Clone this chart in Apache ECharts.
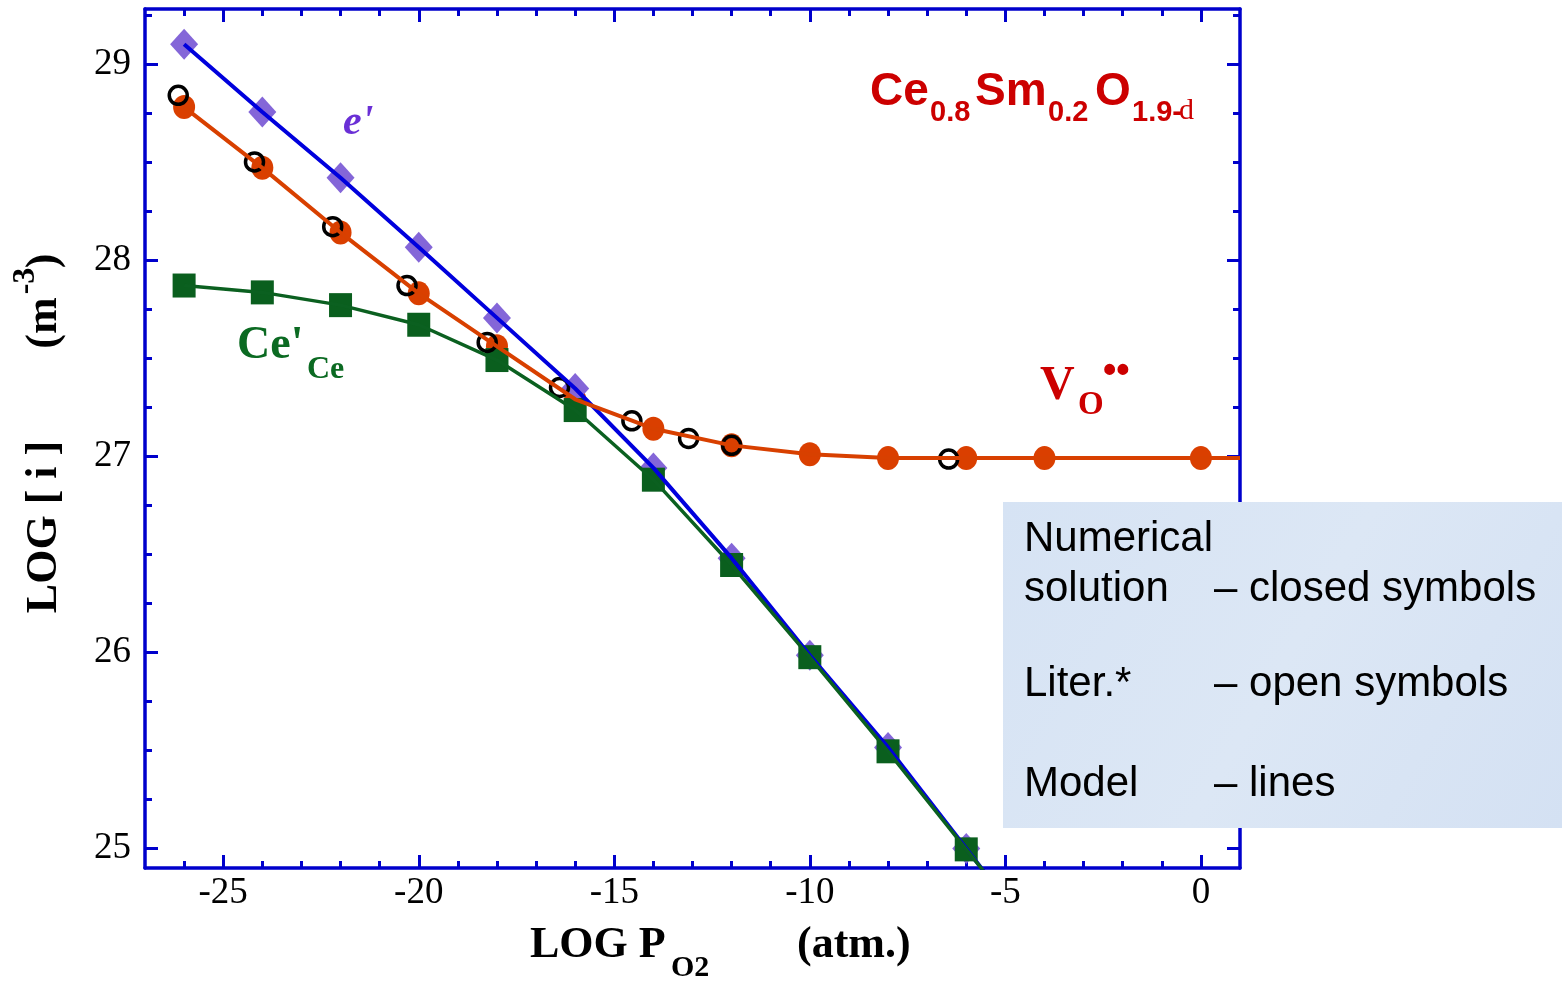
<!DOCTYPE html>
<html><head><meta charset="utf-8">
<script src="https://cdn.jsdelivr.net/npm/echarts@6/dist/echarts.min.js"></script>
<style>html,body{margin:0;padding:0;background:#fff}#c{width:1562px;height:983px}</style>
</head><body><div id="c"></div>
<script>
// ---- data ----
const numX = [-26, -24, -22, -20, -18, -16, -14, -12, -10, -8, -6];
const eNum = [29.10, 28.755, 28.42, 28.065, 27.705, 27.345, 26.94, 26.48, 25.985, 25.515, 25.00];
const ceNum = [27.87, 27.835, 27.77, 27.67, 27.49, 27.235, 26.88, 26.445, 25.975, 25.495, 24.995];
const voX = [-26, -24, -22, -20, -18, -16, -14, -12, -10, -8, -6, -4, 0];
const voNum = [28.78, 28.47, 28.14, 27.83, 27.56, 27.29, 27.14, 27.055, 27.01, 26.99, 26.99, 26.99, 26.99];
const litX = [-26.15, -24.2, -22.2, -20.3, -18.25, -16.4, -14.55, -13.1, -12.0, -6.45];
const litVo = [28.84, 28.50, 28.17, 27.87, 27.58, 27.35, 27.18, 27.09, 27.055, 26.985];
// model lines continue past the last symbols to the frame
const eModelEnd = [-5.5, 24.87];
const ceModelEnd = [-5.5, 24.87];
const voModelEnd = [1, 26.99];
// axes
const xMin = -27, xMax = 1, yMin = 24.9, yMax = 29.28;
const xMajor = [-25, -20, -15, -10, -5, 0];
const xMinor = [-26, -24, -23, -22, -21, -19, -18, -17, -16, -14, -13, -12, -11, -9, -8, -7, -6, -4, -3, -2, -1];
const yMajor = [25, 26, 27, 28, 29];
const yMinor = [25.25, 25.5, 25.75, 26.25, 26.5, 26.75, 27.25, 27.5, 27.75, 28.25, 28.5, 28.75, 29.25];

const AX = '#0000cc';
const pairs = (xs, ys) => xs.map((x, i) => [x, ys[i]]);

function mkAxis(kind, pos, ticks, len, showLine, labels) {
  return {
    type: 'value', min: kind === 'x' ? xMin : yMin, max: kind === 'x' ? xMax : yMax, position: pos,
    axisLine: { show: showLine, onZero: false, lineStyle: { color: AX, width: 3.5 } },
    axisTick: { show: true, inside: true, length: len, customValues: ticks, lineStyle: { color: AX, width: 3 } },
    axisLabel: labels ? { show: true, customValues: ticks, color: '#000', fontFamily: 'Liberation Serif', fontSize: 37, margin: kind === 'x' ? 7 : 14 } : { show: false },
    splitLine: { show: false }, axisPointer: { show: false }
  };
}

const chart = echarts.init(document.getElementById('c'), null, { renderer: 'canvas' });

const T = (text, x, y, font, fill) => ({
  type: 'text', x: x, y: y, z: 110,
  style: { text: text, font: font, fill: fill, align: 'left', verticalAlign: 'middle' }
});
const TR = (text, x, y, font) => ({
  type: 'text', x: x, y: y, z: 110, rotation: Math.PI / 2,
  style: { text: text, font: font, fill: '#000', align: 'center', verticalAlign: 'middle' }
});

const RED = '#cc0000';
const SANS = 'Liberation Sans', SERIF = 'Liberation Serif';

chart.setOption({
  animation: false,
  backgroundColor: '#ffffff',
  grid: { left: 145, top: 9, right: 322, bottom: 115, containLabel: false, outerBoundsMode: 'none' },
  xAxis: [
    mkAxis('x', 'bottom', xMajor, 13, true, true),
    mkAxis('x', 'bottom', xMinor, 7, false, false),
    mkAxis('x', 'top', xMajor, 13, true, false),
    mkAxis('x', 'top', xMinor, 7, false, false)
  ],
  yAxis: [
    mkAxis('y', 'left', yMajor, 13, true, true),
    mkAxis('y', 'left', yMinor, 7, false, false),
    mkAxis('y', 'right', yMajor, 13, true, false),
    mkAxis('y', 'right', yMinor, 7, false, false)
  ],
  series: [
    { name: 'e model', type: 'line', data: pairs(numX, eNum).concat([eModelEnd]), symbol: 'none', clip: true,
      lineStyle: { color: '#0000dd', width: 4 } },
    { name: 'Vo model', type: 'line', data: pairs(voX, voNum).concat([voModelEnd]), symbol: 'none', clip: true,
      lineStyle: { color: '#d84000', width: 4 } },
    { name: 'Ce model', type: 'line', data: pairs(numX, ceNum).concat([ceModelEnd]), symbol: 'none', clip: true,
      lineStyle: { color: '#0b6020', width: 3.5 } },
    { name: 'Vo num', type: 'scatter', data: pairs(voX, voNum), symbol: 'circle', symbolSize: [22, 24],
      itemStyle: { color: '#da3f00', opacity: 1 } },
    { name: 'e num', type: 'scatter', data: pairs(numX, eNum), symbol: 'diamond', symbolSize: [28, 31],
      itemStyle: { color: '#8466d8', opacity: 1 } },
    { name: 'Ce num', type: 'scatter', data: pairs(numX, ceNum), symbol: 'rect', symbolSize: [23, 24],
      itemStyle: { color: '#0a5f1e', opacity: 1 } },
    { name: 'Vo lit', type: 'scatter', data: pairs(litX, litVo), symbol: 'circle', symbolSize: 18,
      itemStyle: { color: 'rgba(0,0,0,0)', borderColor: '#000', borderWidth: 3.5, opacity: 1 } }
  ],
  graphic: [
    // formula
    T('Ce', 870, 92, 'bold 46px ' + SANS, RED),
    T('0.8', 930, 113, 'bold 29px ' + SANS, RED),
    T('Sm', 975, 92, 'bold 46px ' + SANS, RED),
    T('0.2', 1048, 113, 'bold 29px ' + SANS, RED),
    T('O', 1095, 92, 'bold 46px ' + SANS, RED),
    T('1.9-', 1132, 113, 'bold 29px ' + SANS, RED),
    T('d', 1179, 111, '30px ' + SERIF, RED),
    // species labels
    T("e'", 343, 123, 'italic bold 42px ' + SERIF, '#6a2fd6'),
    T("Ce'", 237, 346, 'bold 46px ' + SERIF, '#0b6a22'),
    T('Ce', 307, 370, 'bold 32px ' + SERIF, '#0b6a22'),
    T('V', 1040, 387, 'bold 48px ' + SERIF, RED),
    T('O', 1078, 405, 'bold 33px ' + SERIF, RED),
    T('••', 1103, 372, 'bold 38px ' + SANS, RED),
    // axis titles
    T('LOG P', 530, 946, 'bold 44px ' + SERIF, '#000'),
    T('O2', 671, 968, 'bold 30px ' + SERIF, '#000'),
    T('(atm.)', 797, 946, 'bold 44px ' + SERIF, '#000'),
    TR('LOG [ i ]', 45, 527, 'bold 44px ' + SERIF),
    TR('(m', 45, 323, 'bold 44px ' + SERIF),
    TR('-3', 26, 281, 'bold 32px ' + SERIF),
    TR(')', 45, 261, 'bold 44px ' + SERIF),
    // legend box
    { type: 'rect', z: 105, shape: { x: 1003, y: 502, width: 559, height: 326 },
      style: { fill: { type: 'linear', x: 0, y: 0, x2: 1, y2: 1, colorStops: [
        { offset: 0, color: '#d6e3f4' }, { offset: 0.5, color: '#dce7f5' }, { offset: 1, color: '#d4e1f3' } ] } } },
    T('Numerical', 1024, 539, '42px ' + SANS, '#000'),
    T('solution', 1024, 589, '42px ' + SANS, '#000'),
    T('– closed symbols', 1214, 589, '42px ' + SANS, '#000'),
    T('Liter.*', 1024, 684, '42px ' + SANS, '#000'),
    T('– open symbols', 1214, 684, '42px ' + SANS, '#000'),
    T('Model', 1024, 784, '42px ' + SANS, '#000'),
    T('– lines', 1214, 784, '42px ' + SANS, '#000')
  ]
});
</script>
</body></html>
